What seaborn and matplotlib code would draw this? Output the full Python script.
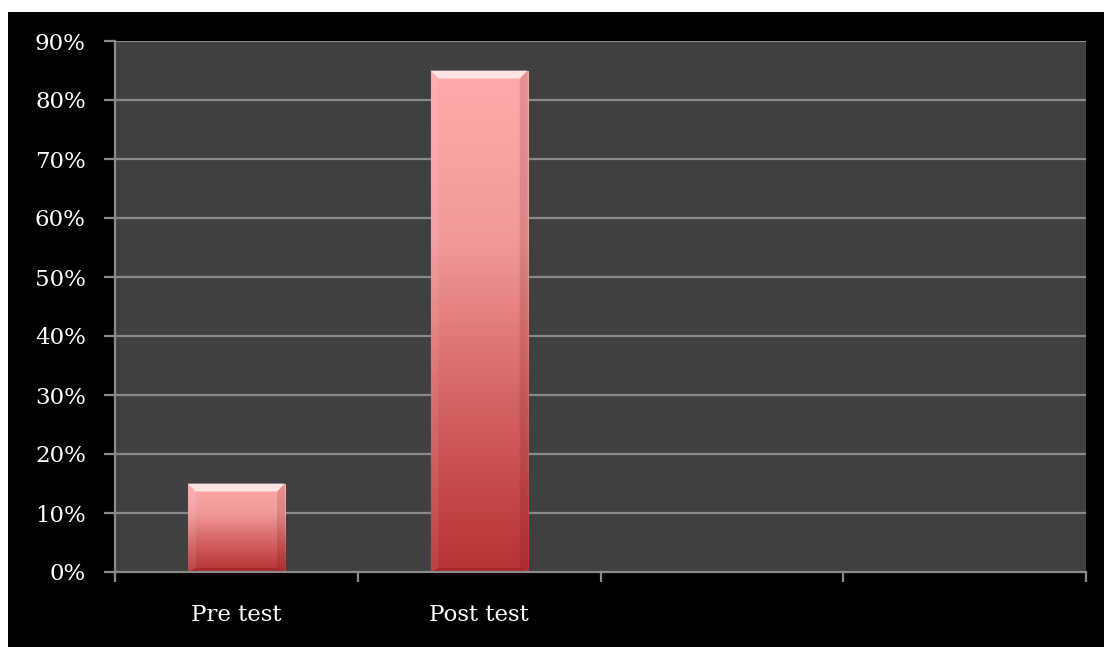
import numpy as np
import pandas as pd
import matplotlib
matplotlib.use("Agg")
import matplotlib.pyplot as plt
import matplotlib.patches as mpatches
from matplotlib.colors import LinearSegmentedColormap
import seaborn as sns

# Chart data
categories = ["Pre test", "Post test", "", " "]
scores = [15, 85, np.nan, np.nan]
y_ticks = [0, 10, 20, 30, 40, 50, 60, 70, 80, 90]
y_tick_labels = [f"{v}%" for v in y_ticks]

sns.set_theme(style="dark")
plt.rcParams["font.family"] = ["DejaVu Serif", "Liberation Serif"]

W, H = 1104, 647
fig = plt.figure(figsize=(W / 100, H / 100), dpi=100, facecolor="black")

# white margin strips along the top and left edges of the canvas
fig.patches.append(mpatches.Rectangle((0, 1 - 12 / H), 1, 12 / H, transform=fig.transFigure,
                                      facecolor="white", edgecolor="none", zorder=0))
fig.patches.append(mpatches.Rectangle((0, 0), 8 / W, 1, transform=fig.transFigure,
                                      facecolor="white", edgecolor="none", zorder=0))

left, right, top, bottom = 115, 1086, 41, 572
ax = fig.add_axes([left / W, 1 - bottom / H, (right - left) / W, (bottom - top) / H])
ax.set_facecolor("#404040")

df = pd.DataFrame({"category": categories, "score": scores})
sns.barplot(data=df, x="category", y="score", ax=ax, width=0.40,
            color="#d06060", saturation=1, edgecolor="none", zorder=3)

ax.set_ylim(0, 90)
ax.set_xlim(-0.5, len(categories) - 0.5)
ax.set_yticks(y_ticks)
ax.set_yticklabels(y_tick_labels)
ax.set_xlabel("")
ax.set_ylabel("")

# horizontal gridlines
grid_col = "#8a8a8a"
ax.grid(False)
for v in y_ticks[1:]:
    ax.axhline(v, color=grid_col, lw=1.6, zorder=1)

for s in ["top", "right"]:
    ax.spines[s].set_visible(False)
ax.spines["left"].set_color(grid_col)
ax.spines["left"].set_linewidth(1.6)
ax.spines["bottom"].set_color(grid_col)
ax.spines["bottom"].set_linewidth(1.6)
ax.spines["bottom"].set_zorder(6)

# category ticks sit on the boundaries between categories
ax.set_xticks(np.arange(len(categories)), labels=categories)
ax.set_xticks(np.arange(len(categories) + 1) - 0.5, minor=True)
ax.tick_params(axis="x", which="major", bottom=True, length=0, pad=23,
               labelsize=16.5, labelcolor="white")
ax.tick_params(axis="x", which="minor", bottom=True, length=7, width=1.6,
               color=grid_col, direction="out")
ax.tick_params(axis="y", left=True, length=8, width=1.6, color=grid_col, direction="out",
               labelsize=16.5, labelcolor="white", pad=13)

# vertical gradient fill with bevelled edges for each bar
grad = LinearSegmentedColormap.from_list("bar", ["#b83232", "#d46262", "#f29a9a", "#ffaaaa"])
gradient = np.linspace(0, 1, 256).reshape(-1, 1)
for patch in list(ax.patches):
    x0, y0 = patch.get_x(), patch.get_y()
    w, h = patch.get_width(), patch.get_height()
    if not np.isfinite(h) or h <= 0:
        continue
    patch.set_facecolor("none")
    im = ax.imshow(gradient, cmap=grad, aspect="auto", origin="lower",
                   extent=[x0, x0 + w, y0, y0 + h], zorder=4, interpolation="bicubic")
    im.set_clip_path(patch)
    # bevel widths in data units (about 8 px)
    bx = w * 8 / 98
    by = 90 * 8 / 531
    top_bevel = mpatches.Polygon([[x0, y0 + h], [x0 + w, y0 + h], [x0 + w - bx, y0 + h - by],
                                  [x0 + bx, y0 + h - by]], closed=True,
                                 facecolor="white", alpha=0.7, edgecolor="none", zorder=5)
    ax.add_patch(top_bevel)
    left_bevel = mpatches.Polygon([[x0, y0], [x0, y0 + h], [x0 + bx, y0 + h - by],
                                   [x0 + bx, y0 + by * 0.5]], closed=True,
                                  facecolor="white", alpha=0.08, edgecolor="none", zorder=5)
    ax.add_patch(left_bevel)
    right_bevel = mpatches.Polygon([[x0 + w, y0], [x0 + w, y0 + h], [x0 + w - bx, y0 + h - by],
                                    [x0 + w - bx, y0 + by * 0.5]], closed=True,
                                   facecolor="#5a1010", alpha=0.15, edgecolor="none", zorder=5)
    ax.add_patch(right_bevel)
    bottom_bevel = mpatches.Polygon([[x0, y0], [x0 + w, y0], [x0 + w - bx, y0 + by * 0.5],
                                     [x0 + bx, y0 + by * 0.5]], closed=True,
                                    facecolor="#6a0c0c", alpha=0.25, edgecolor="none", zorder=5)
    ax.add_patch(bottom_bevel)

fig.savefig("out.png", dpi=100, facecolor=fig.get_facecolor())
